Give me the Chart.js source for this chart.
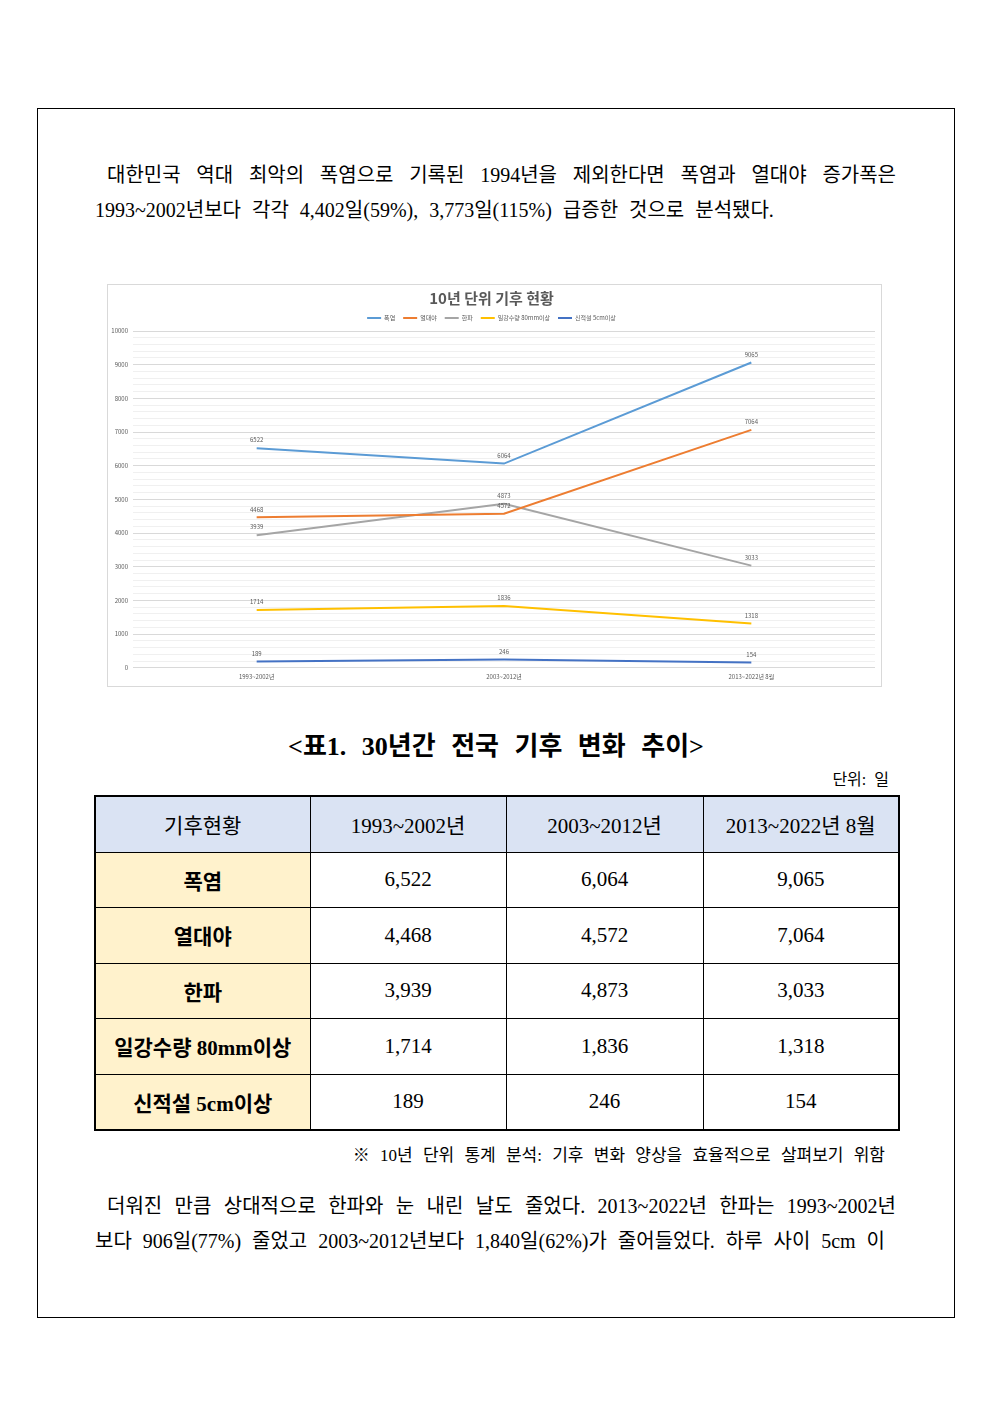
<!DOCTYPE html>
<html lang="ko">
<head>
<meta charset="utf-8">
<script src="https://cdn.jsdelivr.net/npm/chart.js@4"></script>
<style>
  html, body { margin: 0; padding: 0; background: #fff; }
  body { width: 992px; height: 1403px; position: relative; font-family: "Liberation Serif", "Noto Sans CJK KR", serif; color: #000; }
  .frame { position: absolute; left: 37px; top: 108px; width: 918px; height: 1210px; border: 1px solid #000; box-sizing: border-box; }
  .line { position: absolute; font-size: 20px; line-height: 24px; white-space: nowrap; }
  .just { text-align: justify; text-align-last: justify; white-space: normal; }
  .chartBox { position: absolute; left: 107px; top: 284px; width: 775px; height: 403px; border: 1px solid #d9d9d9; box-sizing: border-box; }
  .caption { position: absolute; left: 0; width: 992px; top: 725px; text-align: center; font-size: 26px; font-weight: bold; word-spacing: 9px; }
  .unit { position: absolute; left: 780px; width: 109px; top: 766px; text-align: right; font-size: 16px; word-spacing: 4px; }
  table { position: absolute; left: 94px; top: 795px; width: 804px; border-collapse: collapse; border: 2px solid #000; table-layout: fixed; }
  td { border: 1px solid #000; height: 54.5px; text-align: center; font-size: 21px; padding: 0; }
  tr.head td { background: #dae3f3; }
  td.name { background: #fff2cc; font-weight: bold; }
  .note { position: absolute; left: 300px; width: 585px; top: 1141px; text-align: right; font-size: 17px; word-spacing: 6px; }
</style>
</head>
<body>
<div class="frame"></div>

<div class="line just" style="left:107px; top:163px; width:789px;">대한민국 역대 최악의 폭염으로 기록된 1994년을 제외한다면 폭염과 열대야 증가폭은</div>
<div class="line" style="left:95px; top:198px; word-spacing:6px;">1993~2002년보다 각각 4,402일(59%), 3,773일(115%) 급증한 것으로 분석됐다.</div>

<div class="chartBox"><canvas id="chart"></canvas></div>

<div class="caption">&lt;표1. 30년간 전국 기후 변화 추이&gt;</div>
<div class="unit">단위: 일</div>
<table id="dataTable">
  <colgroup><col style="width:215px"><col style="width:196px"><col style="width:197px"><col style="width:196px"></colgroup>
</table>
<div class="note">※ 10년 단위 통계 분석: 기후 변화 양상을 효율적으로 살펴보기 위함</div>

<div class="line just" style="left:107px; top:1194px; width:789px;">더워진 만큼 상대적으로 한파와 눈 내린 날도 줄었다. 2013~2022년 한파는 1993~2002년</div>
<div class="line just" style="left:95px; top:1229px; width:790px;">보다 906일(77%) 줄었고 2003~2012년보다 1,840일(62%)가 줄어들었다. 하루 사이 5cm 이</div>

<script>
const categories = ['1993~2002년', '2003~2012년', '2013~2022년 8월'];
const seriesNames = ['폭염', '열대야', '한파', '일강수량 80mm이상', '신적설 5cm이상'];
const heatWave = [6522, 6064, 9065];
const tropicalNight = [4468, 4572, 7064];
const coldWave = [3939, 4873, 3033];
const heavyRain = [1714, 1836, 1318];
const snowfall = [189, 246, 154];
const seriesColors = ['#5b9bd5', '#ed7d31', '#a5a5a5', '#ffc000', '#4472c4'];

const seriesData = [heatWave, tropicalNight, coldWave, heavyRain, snowfall];
const korFont = '"Noto Sans CJK KR", sans-serif';

// table below the chart, from the same arrays
const table = document.getElementById('dataTable');
let html = '<tr class="head"><td>기후현황</td>' +
  categories.map(c => `<td>${c}</td>`).join('') + '</tr>';
seriesData.forEach((vals, i) => {
  html += `<tr><td class="name">${seriesNames[i]}</td>` +
    vals.map(v => `<td>${v.toLocaleString('en-US')}</td>`).join('') + '</tr>';
});
table.insertAdjacentHTML('beforeend', html);

const valueLabels = {
  id: 'valueLabels',
  afterDatasetsDraw(chart) {
    const ctx = chart.ctx;
    ctx.save();
    ctx.font = '6px ' + korFont;
    ctx.fillStyle = '#595959';
    ctx.textAlign = 'center';
    ctx.textBaseline = 'bottom';
    chart.data.datasets.forEach((ds, i) => {
      chart.getDatasetMeta(i).data.forEach((pt, j) => {
        ctx.fillText(String(ds.data[j]), pt.x, pt.y - 5);
      });
    });
    ctx.restore();
  }
};

new Chart(document.getElementById('chart'), {
  type: 'line',
  data: {
    labels: categories,
    datasets: seriesData.map((d, i) => ({
      label: seriesNames[i],
      data: d,
      borderColor: seriesColors[i],
      backgroundColor: seriesColors[i],
      borderWidth: 2,
      pointRadius: 0,
      pointHoverRadius: 0,
      tension: 0,
      fill: false
    }))
  },
  options: {
    responsive: true,
    maintainAspectRatio: false,
    animation: false,
    layout: { padding: { left: 0, right: 6, top: 0, bottom: 1 } },
    plugins: {
      title: {
        display: true,
        text: '10년 단위 기후 현황',
        color: '#595959',
        font: { family: korFont, size: 15, weight: 'bold' },
        padding: { top: 4, bottom: 0 }
      },
      legend: {
        labels: {
          usePointStyle: true,
          pointStyle: 'line',
          pointStyleWidth: 14,
          boxHeight: 6,
          padding: 8,
          color: '#595959',
          font: { family: korFont, size: 6 }
        }
      },
      tooltip: { enabled: false }
    },
    scales: {
      x: {
        offset: true,
        grid: { display: false, drawTicks: false },
        border: { display: false },
        ticks: { color: '#595959', font: { family: korFont, size: 6 }, padding: 5 }
      },
      y: {
        min: 0,
        max: 10000,
        afterFit(scale) { scale.width = 25; },
        border: { display: false },
        grid: {
          drawTicks: false,
          color: c => (c.tick && c.tick.value % 1000 === 0) ? '#d9d9d9' : '#f0f0f0',
          lineWidth: 1
        },
        ticks: {
          stepSize: 200,
          autoSkip: false,
          padding: 5,
          color: '#595959',
          font: { family: korFont, size: 6 },
          callback: v => (v % 1000 === 0 ? v : '')
        }
      }
    }
  },
  plugins: [valueLabels]
});
</script>
</body>
</html>
